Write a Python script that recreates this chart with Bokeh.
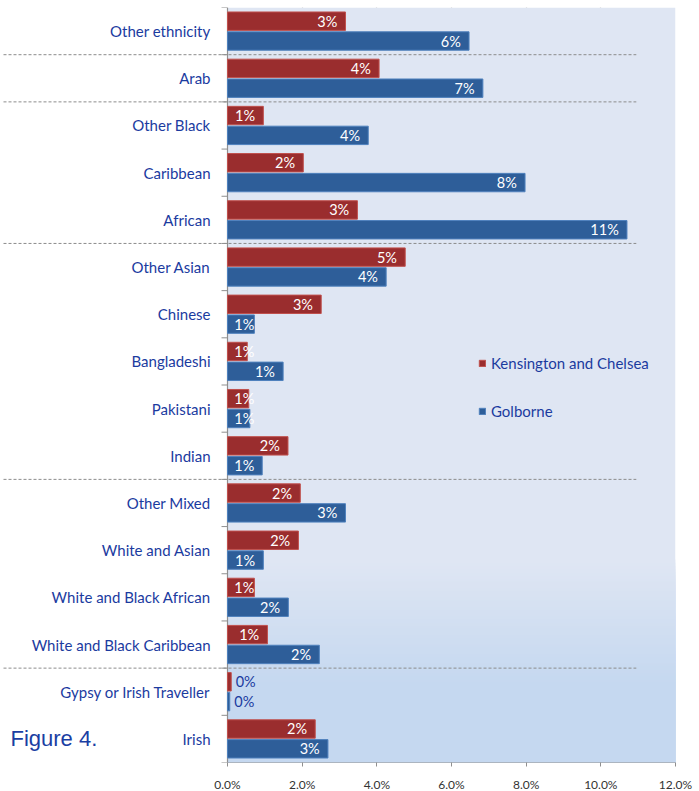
from bokeh.plotting import figure
from bokeh.models import (Range1d, FixedTicker, PrintfTickFormatter, ColumnDataSource,
                          Legend, LegendItem)
from bokeh.core.properties import value
from bokeh.embed import file_html
from bokeh.resources import INLINE
import numpy as np

# ---------------- data (top to bottom) ----------------
categories = ["Other ethnicity", "Arab", "Other Black", "Caribbean", "African",
              "Other Asian", "Chinese", "Bangladeshi", "Pakistani", "Indian",
              "Other Mixed", "White and Asian", "White and Black African",
              "White and Black Caribbean", "Gypsy or Irish Traveller", "Irish"]
groups = ["Other", "Arab", "Black", "Black", "Black",
          "Asian", "Asian", "Asian", "Asian", "Asian",
          "Mixed", "Mixed", "Mixed", "Mixed", "White", "White"]
kensington = [3.16, 4.06, 0.96, 2.03, 3.48, 4.76, 2.51, 0.53, 0.57, 1.62,
              1.95, 1.90, 0.72, 1.07, 0.10, 2.35]
golborne = [6.47, 6.84, 3.77, 7.97, 10.70, 4.25, 0.72, 1.49, 0.60, 0.93,
            3.16, 0.96, 1.63, 2.46, 0.06, 2.69]
series_names = ["Kensington and Chelsea", "Golborne"]
x_ticks = [0, 2, 4, 6, 8, 10, 12]
figure_label = "Figure 4."

# ---------------- styles ----------------
RED, RED_LINE = "#9a2d2e", "#c0504d"
BLUE, BLUE_LINE = "#2e5e99", "#4f81bd"
TXT = "#1b3b9f"
GRID = "#8f8f8f"
FONT = "Lato"

n = len(categories)
ypos = np.array([n - 1 - i + 0.5 for i in range(n)])
PX = 448.0 / 12.0            # pixels per percent
X_MIN, X_MAX = -227.0 / PX, 12.0

p = figure(frame_width=675, frame_height=755,
           x_range=Range1d(X_MIN, X_MAX), y_range=Range1d(0, n),
           output_backend="svg", toolbar_location=None,
           min_border_left=0, min_border_right=24, min_border_top=7, min_border_bottom=0,
           background_fill_color="white", border_fill_color="white",
           outline_line_color=None)

# plot-area background with soft gradient at the bottom (overlapping, seam-free)
top_c = np.array([223, 230, 243])
bot_c = np.array([197, 216, 240])
g_lo, g_hi = 1.7, 4.3
p.quad(left=0, right=X_MAX, bottom=0, top=n,
       fill_color="#%02x%02x%02x" % tuple(top_c), line_color=None)
steps = 40
tops = np.linspace(g_hi, g_lo, steps)
cols = []
for t in tops:
    f = (t - g_lo) / (g_hi - g_lo)
    c = (bot_c + (top_c - bot_c) * f).round().astype(int)
    cols.append("#%02x%02x%02x" % tuple(c))
p.quad(left=0, right=X_MAX, bottom=0, top=tops, fill_color=cols, line_color=None)

# grid
p.ygrid.visible = False
p.xgrid.ticker = FixedTicker(ticks=x_ticks[1:])
p.xgrid.grid_line_color = GRID
p.xgrid.grid_line_width = 1.2

# group separators (dashed)
sep_y = [n - i for i in range(1, n) if groups[i] != groups[i - 1]]
p.segment(x0=X_MIN + 3 / PX, x1=10.95, y0=sep_y, y1=sep_y, line_color="#8c8c8c",
          line_dash="3 2", line_width=1)

# left axis line and ticks, bottom axis line
p.segment(x0=0, x1=0, y0=0, y1=n, line_color=GRID, line_width=1.2)
p.segment(x0=-0.16, x1=0, y0=list(range(n + 1)), y1=list(range(n + 1)),
          line_color=GRID, line_width=1)
p.segment(x0=0, x1=X_MAX, y0=0, y1=0, line_color=GRID, line_width=1.2)

# bars
off = 0.21
hh = 0.39
rk = p.hbar(y=ypos + off, left=0, right=kensington, height=hh,
            fill_color=RED, line_color=RED_LINE, line_width=1)
rg = p.hbar(y=ypos - off, left=0, right=golborne, height=hh,
            fill_color=BLUE, line_color=BLUE_LINE, line_width=1)

# value labels
def labels(vals, yy):
    ins = dict(x=[], y=[], t=[])
    out = dict(x=[], y=[], t=[])
    for v, y in zip(vals, yy):
        t = "%d%%" % int(v + 0.5)
        if v >= 0.3:
            ins["x"].append(max(v - 0.22, 0.72)); ins["y"].append(y); ins["t"].append(t)
        else:
            out["x"].append(v + 0.12); out["y"].append(y); out["t"].append(t)
    p.text(x="x", y="y", text="t", source=ColumnDataSource(ins), text_align="right",
           text_baseline="middle", text_color="white", text_font=value(FONT),
           text_font_size="14.5px")
    p.text(x="x", y="y", text="t", source=ColumnDataSource(out), text_align="left",
           text_baseline="middle", text_color=TXT, text_font=value(FONT),
           text_font_size="14.5px")

labels(kensington, ypos + off)
labels(golborne, ypos - off)

# category labels
p.text(x=-17 / PX, y=ypos, text=categories, text_align="right", text_baseline="middle",
       text_color=TXT, text_font=value(FONT), text_font_size="15px")

# figure caption
p.text(x=X_MIN + 10 / PX, y=[ypos[-1]], text=[figure_label], text_align="left",
       text_baseline="middle", text_color="#1a3ea3", text_font=value("Liberation Sans"),
       text_font_size="22px")

# axes
p.yaxis.visible = False
ax = p.xaxis[0]
ax.ticker = FixedTicker(ticks=x_ticks)
ax.formatter = PrintfTickFormatter(format="%.1f%%")
ax.axis_line_color = None
ax.major_tick_line_color = GRID
ax.major_tick_out = 4
ax.major_tick_in = 0
ax.minor_tick_line_color = None
ax.major_label_text_font = FONT
ax.major_label_text_font_size = "12px"
ax.major_label_text_color = "#333333"
ax.major_label_standoff = 10

# legend
legend = Legend(items=[LegendItem(label=series_names[0], renderers=[rk]),
                       LegendItem(label=series_names[1], renderers=[rg])],
                location=(478, 341), orientation="vertical",
                glyph_width=8, glyph_height=8, label_height=20, spacing=28,
                padding=0, margin=0, label_standoff=5,
                label_text_font=FONT, label_text_font_size="15px", label_text_color=TXT,
                border_line_color=None, background_fill_alpha=0)
p.add_layout(legend)

open("out.html", "w").write(file_html(p, INLINE))
